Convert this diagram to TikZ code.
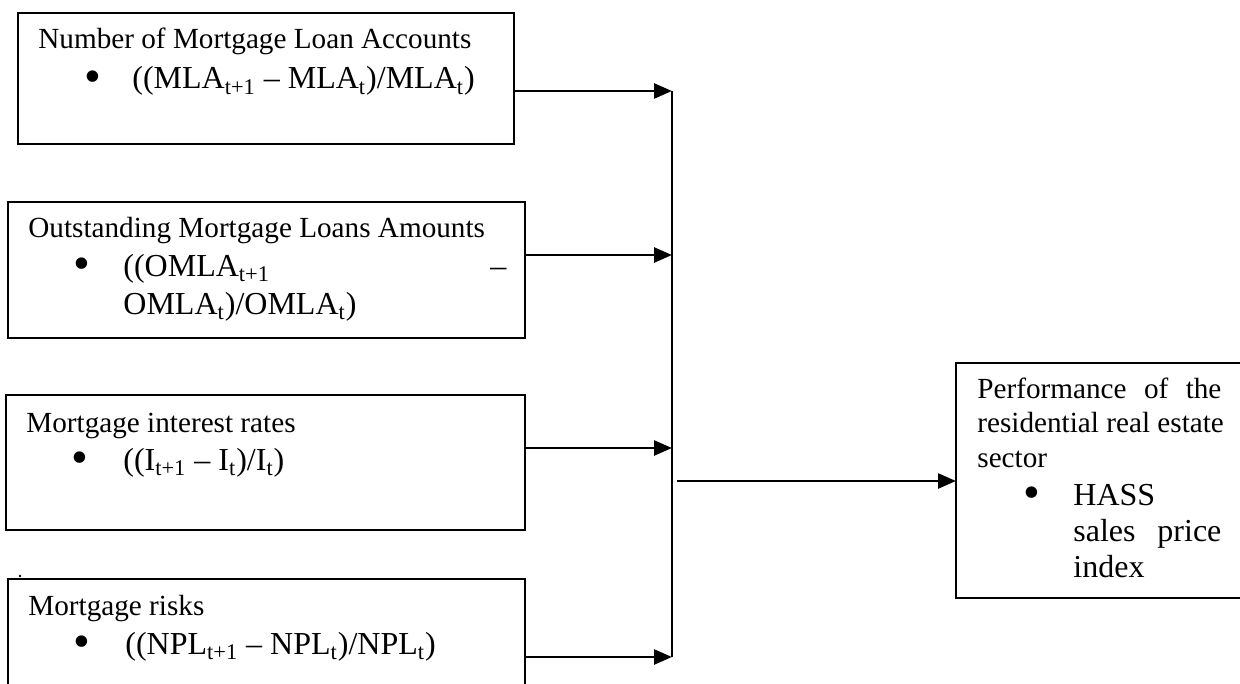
\documentclass[tikz,border=0pt]{standalone}
\usepackage{fontspec}
\setmainfont{Liberation Serif}
\usetikzlibrary{arrows.meta}
\newcommand{\sbs}[1]{\textsubscript{#1}}
\tikzset{
  box/.style={draw, line width=0.7pt, inner sep=0pt, outer sep=0pt, anchor=north west},
  conn/.style={line width=1.25pt},
  arr/.style={line width=1.25pt, -{Triangle[length=9pt,width=7.5pt]}},
  head/.style={anchor=base west, inner sep=0pt, font=\fontsize{14.6}{17}\selectfont},
  btext/.style={anchor=base west, inner sep=0pt, font=\fontsize{16}{18}\selectfont},
  bul/.style={anchor=center, inner sep=0pt, font=\fontsize{24}{26}\selectfont}
}
\begin{document}
\begin{tikzpicture}[x=0.5pt,y=-0.5pt]
\useasboundingbox (0,0) rectangle (1240,684);
\clip (0,0) rectangle (1240,684);
% boxes
\node[box, minimum width=248pt, minimum height=65.5pt] (b1) at (18,13) {};
\node[box, minimum width=258.5pt, minimum height=68pt] (b2) at (8,202) {};
\node[box, minimum width=259.5pt, minimum height=67.5pt] (b3) at (6,395) {};
\node[box, minimum width=258.5pt, minimum height=71pt] (b4) at (8,579) {};
\node[box, minimum width=147pt, minimum height=117.5pt] (out) at (956,363) {};
% box 1
\node[head] (t1a) at (38,49) {Number of Mortgage Loan Accounts};
\node[bul] (u1) at (93,82) {•};
\node[btext] (t1b) at (132,89) {((MLA\sbs{t+1} – MLA\sbs{t})/MLA\sbs{t})};
% box 2
\node[head] (t2a) at (28,237) {Outstanding Mortgage Loans Amounts};
\node[bul] (u2) at (82,269) {•};
\node[btext] (t2b) at (123,276) {\makebox[191.5pt][s]{((OMLA\sbs{t+1} –}};
\node[btext] (t2c) at (123,314) {OMLA\sbs{t})/OMLA\sbs{t})};
% box 3
\node[head] (t3a) at (26,432) {Mortgage interest rates};
\node[bul] (u3) at (80,463) {•};
\node[btext] (t3b) at (123,470) {((I\sbs{t+1} – I\sbs{t})/I\sbs{t})};
% box 4
\node[head] (t4a) at (28,615) {Mortgage risks};
\node[bul] (u4) at (82,647) {•};
\node[btext] (t4b) at (125,654) {((NPL\sbs{t+1} – NPL\sbs{t})/NPL\sbs{t})};
\fill (20,576) circle (1.3);
% output box
\node[head] (o1) at (977,398) {\makebox[122pt][s]{Performance of the}};
\node[head] (o2) at (977,432) {residential real estate};
\node[head] (o3) at (977,467) {sector};
\node[bul] (u5) at (1032,498) {•};
\node[btext] (o4) at (1073,505) {HASS};
\node[btext] (o5) at (1073,541) {\makebox[74pt][s]{sales price}};
\node[btext] (o6) at (1073,577) {index};
% connectors
\coordinate (j1) at (672,91);
\coordinate (j2) at (672,255);
\coordinate (j3) at (672,448);
\coordinate (j4) at (672,657);
\coordinate (m) at (677,481);
\draw[arr] (b1.east |- j1) -- (j1);
\draw[arr] (b2.east |- j2) -- (j2);
\draw[arr] (b3.east |- j3) -- (j3);
\draw[arr] (b4.east |- j4) -- (j4);
\draw[conn] (j1) -- (j4);
\draw[arr] (m) -- (out.west |- m);
\end{tikzpicture}
\end{document}
